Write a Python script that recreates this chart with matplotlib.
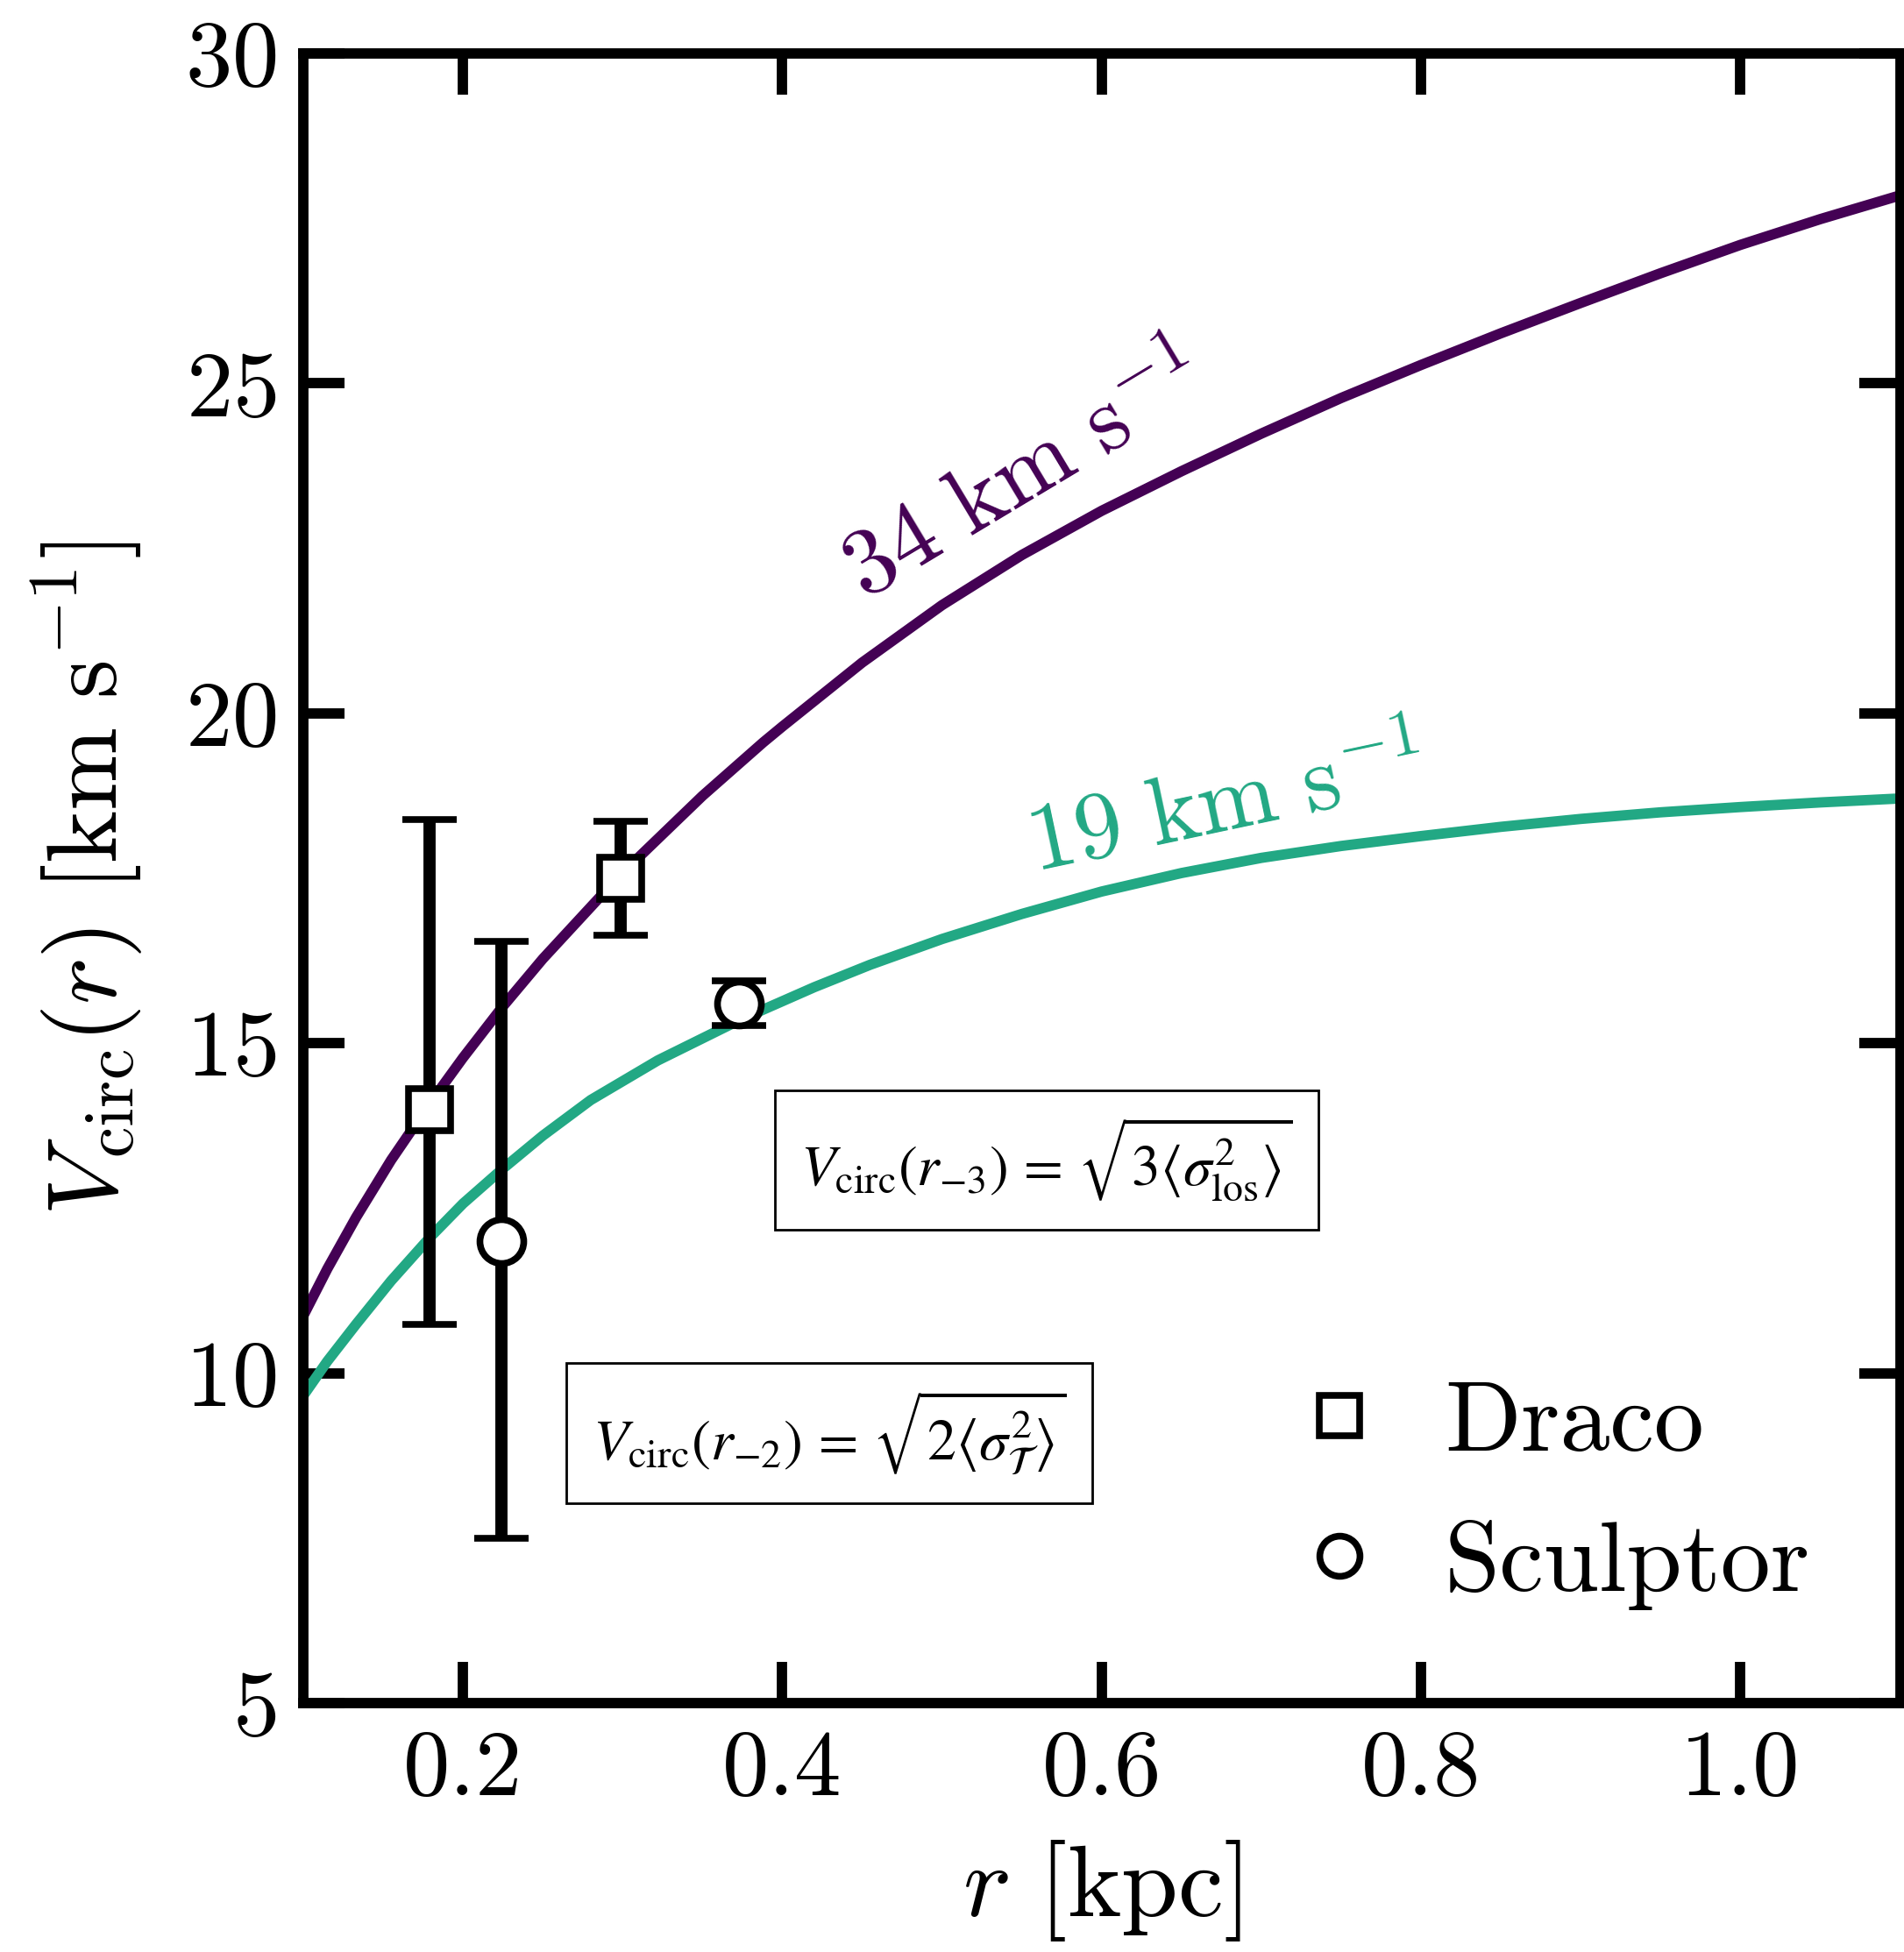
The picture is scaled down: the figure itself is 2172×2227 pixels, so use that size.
import numpy as np
import matplotlib.pyplot as plt
from matplotlib.lines import Line2D

plt.rcParams['font.family'] = 'serif'
plt.rcParams['font.serif'] = ['cmr10']
plt.rcParams['mathtext.fontset'] = 'cm'
plt.rcParams['axes.formatter.use_mathtext'] = True

# circular velocity curves
r_34 = [0.10, 0.115, 0.133, 0.155, 0.179, 0.20, 0.224, 0.25, 0.2985, 0.35, 0.388, 0.40,
        0.45, 0.50, 0.55, 0.60, 0.65, 0.70, 0.75, 0.80, 0.85, 0.90, 0.95, 1.00, 1.05, 1.10]
v_34 = [10.87, 11.58, 12.36, 13.23, 14.08, 14.78, 15.53, 16.28, 17.55, 18.75, 19.56, 19.80,
        20.77, 21.64, 22.40, 23.07, 23.67, 24.24, 24.78, 25.28, 25.76, 26.22, 26.67, 27.10, 27.49, 27.85]

r_19 = [0.10, 0.115, 0.133, 0.155, 0.179, 0.20, 0.224, 0.25, 0.28, 0.322, 0.373, 0.42,
        0.455, 0.50, 0.55, 0.60, 0.65, 0.70, 0.75, 0.80, 0.85, 0.90, 0.95, 1.00, 1.05, 1.10]
v_19 = [9.66, 10.18, 10.74, 11.40, 12.05, 12.57, 13.08, 13.60, 14.14, 14.74, 15.35, 15.85,
        16.19, 16.58, 16.96, 17.30, 17.58, 17.81, 17.99, 18.14, 18.28, 18.40, 18.50, 18.58, 18.65, 18.71]

# data points
draco_r = [0.179, 0.2985]
draco_v = [14.0, 17.5]
draco_lo = [3.26, 0.86]
draco_hi = [4.39, 0.87]

sculptor_r = [0.224, 0.373]
sculptor_v = [12.0, 15.6]
sculptor_lo = [4.5, 0.33]
sculptor_hi = [4.54, 0.35]

purple = '#440154'
green = '#22a884'

fig = plt.figure(figsize=(21.72, 22.27), dpi=100)
ax = fig.add_axes([0.1593, 0.1275, 0.8387, 0.8451])

ax.plot(r_34, v_34, color=purple, lw=8.5, zorder=2)
ax.plot(r_19, v_19, color=green, lw=8.5, zorder=2)

ax.errorbar(draco_r, draco_v, yerr=[draco_lo, draco_hi], fmt='s', ms=34, mfc='white',
            mec='black', mew=5.5, ecolor='black', elinewidth=10, capsize=22, capthick=9, zorder=3)
ax.errorbar(sculptor_r, sculptor_v, yerr=[sculptor_lo, sculptor_hi], fmt='o', ms=36, mfc='white',
            mec='black', mew=5.5, ecolor='black', elinewidth=10, capsize=22, capthick=9, zorder=3)

ax.text(0.552, 23.60, r'$34\ {\rm km\ s^{-1}}$', color=purple, fontsize=78,
        rotation=31, ha='center', va='center')
ax.text(0.678, 18.60, r'$19\ {\rm km\ s^{-1}}$', color=green, fontsize=78,
        rotation=12, ha='center', va='center')

box = dict(boxstyle='square,pad=0.45', fc='white', ec='black', lw=2)
ax.text(0.4654, 0.3294, r'$V_{\rm circ}(r_{-3})\,=\,\sqrt{3\langle\sigma^2_{\rm los}\rangle}$',
        transform=ax.transAxes, fontsize=47, math_fontfamily='stix',
        ha='center', va='center', bbox=box)
ax.text(0.3293, 0.1637, r'$V_{\rm circ}(r_{-2})\,=\,\sqrt{2\langle\sigma^2_{\mathcal{T}}\rangle}$',
        transform=ax.transAxes, fontsize=47.5, math_fontfamily='stix',
        ha='center', va='center', bbox=box)

handles = [
    Line2D([], [], ls='none', marker='s', ms=33, mfc='white', mec='black', mew=5.5),
    Line2D([], [], ls='none', marker='o', ms=33, mfc='white', mec='black', mew=5.5),
]
ax.legend(handles, ['Draco', 'Sculptor'], loc='lower right', bbox_to_anchor=(1.0, 0.002),
          frameon=False, fontsize=82, handlelength=1.0, handletextpad=0.55, labelspacing=0.5)

ax.set_xlim(0.1, 1.1)
ax.set_ylim(5, 30)
ax.set_xticks([0.2, 0.4, 0.6, 0.8, 1.0])
ax.set_xticklabels(['0.2', '0.4', '0.6', '0.8', '1.0'])
ax.set_yticks([5, 10, 15, 20, 25, 30])
ax.tick_params(direction='in', length=34, width=8.5, labelsize=77, pad=22,
               top=True, right=True)
for s in ax.spines.values():
    s.set_linewidth(8.5)

ax.set_xlabel(r'$r\ [{\rm kpc}]$', fontsize=84, labelpad=20)
ax.set_ylabel(r'$V_{\rm circ}(r)\ [{\rm km\ s^{-1}}]$', fontsize=82, labelpad=34)

fig.savefig('out.png', dpi=100)
